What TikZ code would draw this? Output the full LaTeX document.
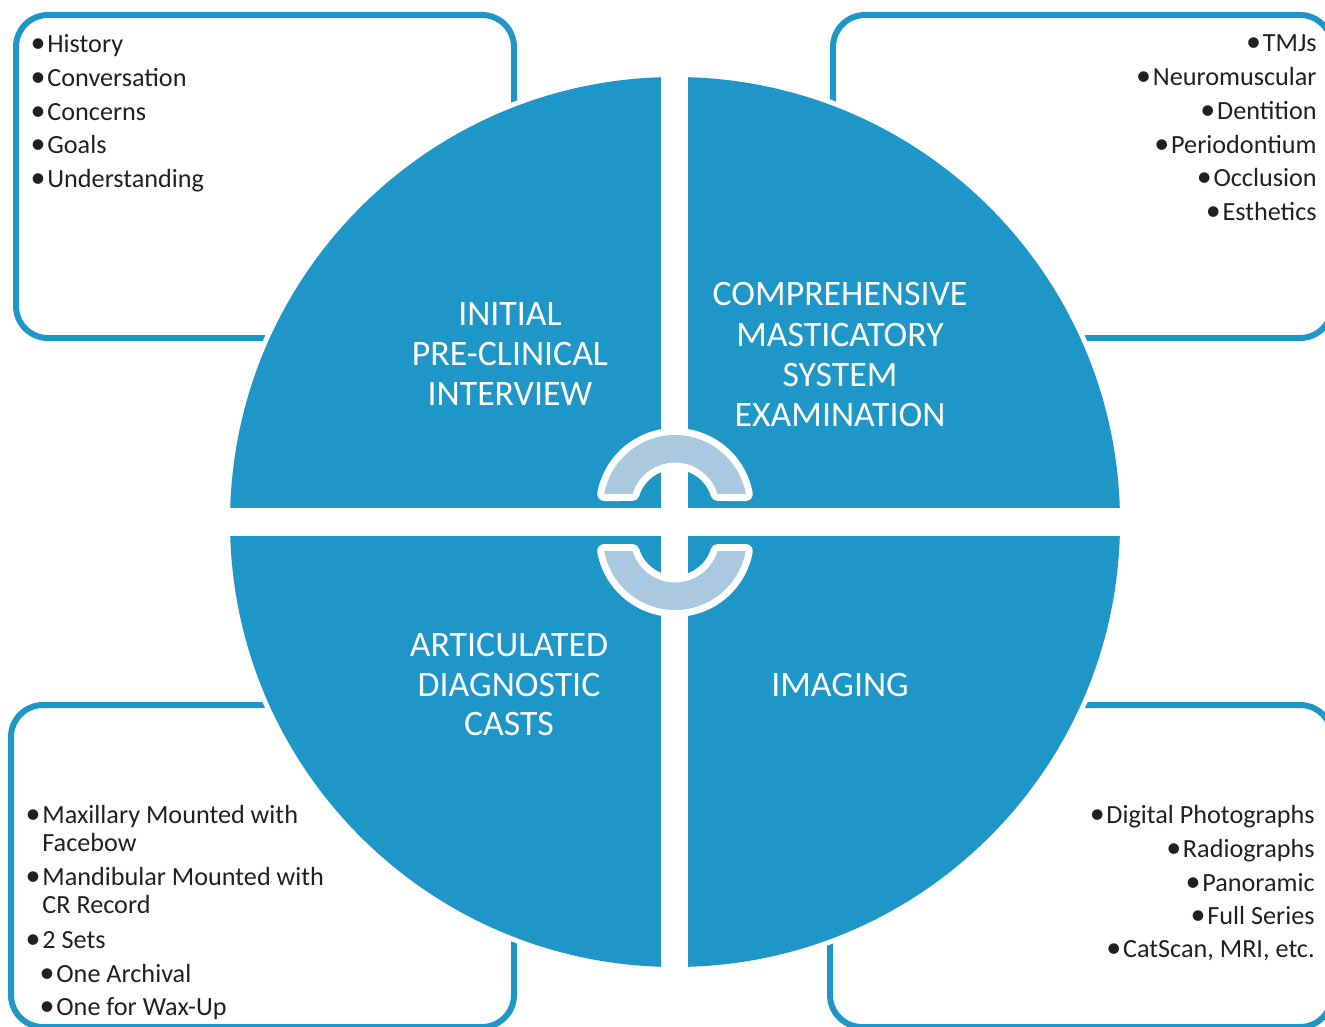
\documentclass[tikz,border=0pt]{standalone}
\usepackage{fontspec}
\setmainfont{Carlito}
\definecolor{qblue}{RGB}{30,150,200}
\definecolor{lblue}{RGB}{170,201,224}
\definecolor{txt}{RGB}{35,31,32}
\newcommand\litemL[4]{\node[li,anchor=base west] (#1) at (#2,#3) {#4};\node[li,anchor=base east,xshift=-0.5pt] (#1b) at (#1.base west) {\fontsize{15}{16}\selectfont •};}
\newcommand\litemR[4]{\node[li,anchor=base east] (#1) at (#2,#3) {#4};\node[li,anchor=base east,xshift=-0.5pt] (#1b) at (#1.base west) {\fontsize{15}{16}\selectfont •};}
\begin{document}
\begin{tikzpicture}[x=0.5pt,y=-0.5pt,
  box/.style={draw=qblue, line width=3pt, rounded corners=16pt},
  li/.style={inner sep=0pt, font=\fontsize{13.1}{16}\selectfont, text=txt},
  ttl/.style={inner sep=0pt, font=\fontsize{17.9}{20}\selectfont, text=white, anchor=base},
  arcout/.style={draw=white, line width=7pt, line join=round},
  arcin/.style={fill=lblue}]
\useasboundingbox (0,0) rectangle (1325,1026);
% boxes
\draw[box] (16,15) rectangle (514,338);
\draw[box] (833,15) rectangle (1332,338);
\draw[box] (11,705) rectangle (514,1027);
\draw[box] (830,705) rectangle (1332,1027);
% circle
\draw[white, line width=5pt] (675,522) circle[radius=445];
\fill[qblue] (675,522) circle[radius=445];
\fill[white] (661,60) rectangle (688,985);
\fill[white] (215,508) rectangle (1135,536);
% center arcs
\foreach \s in {arcout,arcin}{
 \path[\s] ([shift={(675,507)}]190.4:72) arc[start angle=190.4, end angle=349.6, radius=72]
   -- ([shift={(675,507)}]343:44.5) arc[start angle=343, end angle=197, radius=44.5] -- cycle;
 \path[\s] ([shift={(675,538)}]169.6:72) arc[start angle=169.6, end angle=10.4, radius=72]
   -- ([shift={(675,538)}]17:44.5) arc[start angle=17, end angle=163, radius=44.5] -- cycle;
}
% titles
\node[ttl] (t1a) at (510,325) {INITIAL};
\node[ttl] (t1b) at (510,365) {PRE-CLINICAL};
\node[ttl] (t1c) at (510,405) {INTERVIEW};
\node[ttl] (t2a) at (840,306) {COMPREHENSIVE};
\node[ttl] (t2b) at (840,346) {MASTICATORY};
\node[ttl] (t2c) at (840,386) {SYSTEM};
\node[ttl] (t2d) at (840,426) {EXAMINATION};
\node[ttl] (t3a) at (509,656) {ARTICULATED};
\node[ttl] (t3b) at (509,696) {DIAGNOSTIC};
\node[ttl] (t3c) at (509,735) {CASTS};
\node[ttl] (t4a) at (840,696) {IMAGING};
% top-left list
\litemL{a1}{47}{53}{History}
\litemL{a2}{47}{86.6}{Conversation}
\litemL{a3}{47}{120.2}{Concerns}
\litemL{a4}{47}{153.8}{Goals}
\litemL{a5}{47}{187.4}{Understanding}
% top-right list
\litemR{b1}{1317}{52}{TMJs}
\litemR{b2}{1317}{86}{Neuromuscular}
\litemR{b3}{1317}{119.5}{Dentition}
\litemR{b4}{1317}{153.5}{Periodontium}
\litemR{b5}{1317}{187}{Occlusion}
\litemR{b6}{1317}{221}{Esthetics}
% bottom-left list
\litemL{c1}{42}{823}{Maxillary Mounted with}
\node[li,anchor=base west] (c1x) at (42,851) {Facebow};
\litemL{c2}{42}{885}{Mandibular Mounted with}
\node[li,anchor=base west] (c2x) at (42,913) {CR Record};
\litemL{c3}{42}{948}{2 Sets}
\litemL{c4}{56}{982}{One Archival}
\litemL{c5}{56}{1015}{One for Wax-Up}
% bottom-right list
\litemR{d1}{1315}{823}{Digital Photographs}
\litemR{d2}{1315}{857}{Radiographs}
\litemR{d3}{1315}{891}{Panoramic}
\litemR{d4}{1315}{924}{Full Series}
\litemR{d5}{1315}{957}{CatScan, MRI, etc.}
\end{tikzpicture}
\end{document}
